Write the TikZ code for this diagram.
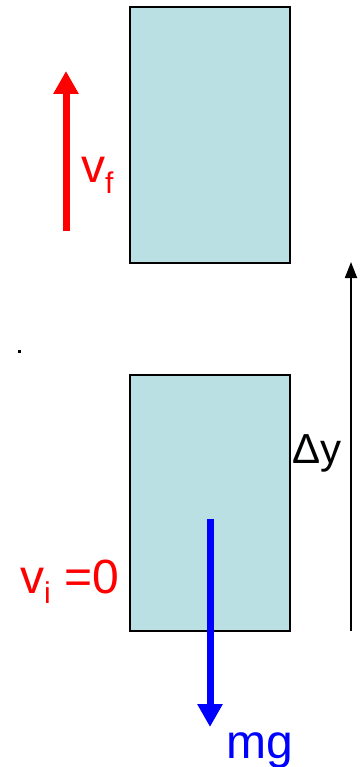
\documentclass[tikz,border=0pt]{standalone}
\usepackage{fontspec}
\setmainfont{Liberation Sans}
\usetikzlibrary{arrows.meta}
\definecolor{boxfill}{HTML}{BBE0E3}
\begin{document}
\begin{tikzpicture}[x=1pt,y=-1pt,
  block/.style={draw=black,line width=2pt,fill=boxfill},
  bigtxt/.style={inner sep=0pt,anchor=base west,font=\fontsize{48}{48}\selectfont},
  midtxt/.style={inner sep=0pt,anchor=base west,font=\fontsize{42}{42}\selectfont},
  thickarrow/.style={line width=7pt,-{Triangle[width=24pt,length=23pt]}},
  thinarrow/.style={line width=1.8pt,-{Triangle[width=12pt,length=16pt]}}]
\useasboundingbox (0,0) rectangle (360,767);
% blocks
\draw[block] (130,7) rectangle (290,263);
\draw[block] (130,375) rectangle (290,631);
% red velocity arrow
\coordinate (rb) at (66,231);
\coordinate (rt) at (66,71);
\draw[red,thickarrow] (rb) -- (rt);
\node[bigtxt,text=red] (vf) at (81,183) {v\raisebox{-10pt}{\fontsize{30}{30}\selectfont f}};
% blue force arrow
\coordinate (bt) at (210,519);
\coordinate (bb) at (210,727);
\draw[blue,thickarrow] (bt) -- (bb);
\node[bigtxt,text=blue] (mg) at (226,758) {mg};
% initial velocity label
\node[bigtxt,text=red] (vi) at (20,593) {v\raisebox{-10pt}{\fontsize{30}{30}\selectfont i} =0};
% displacement arrow
\coordinate (db) at (351,631);
\coordinate (dt) at (351,262);
\draw[black,thinarrow] (db) -- (dt);
\node[midtxt] (dy) at (292,463) {Δy};
% dot
\fill[black] (17.5,349.5) rectangle (20.5,352.5);
\end{tikzpicture}
\end{document}
